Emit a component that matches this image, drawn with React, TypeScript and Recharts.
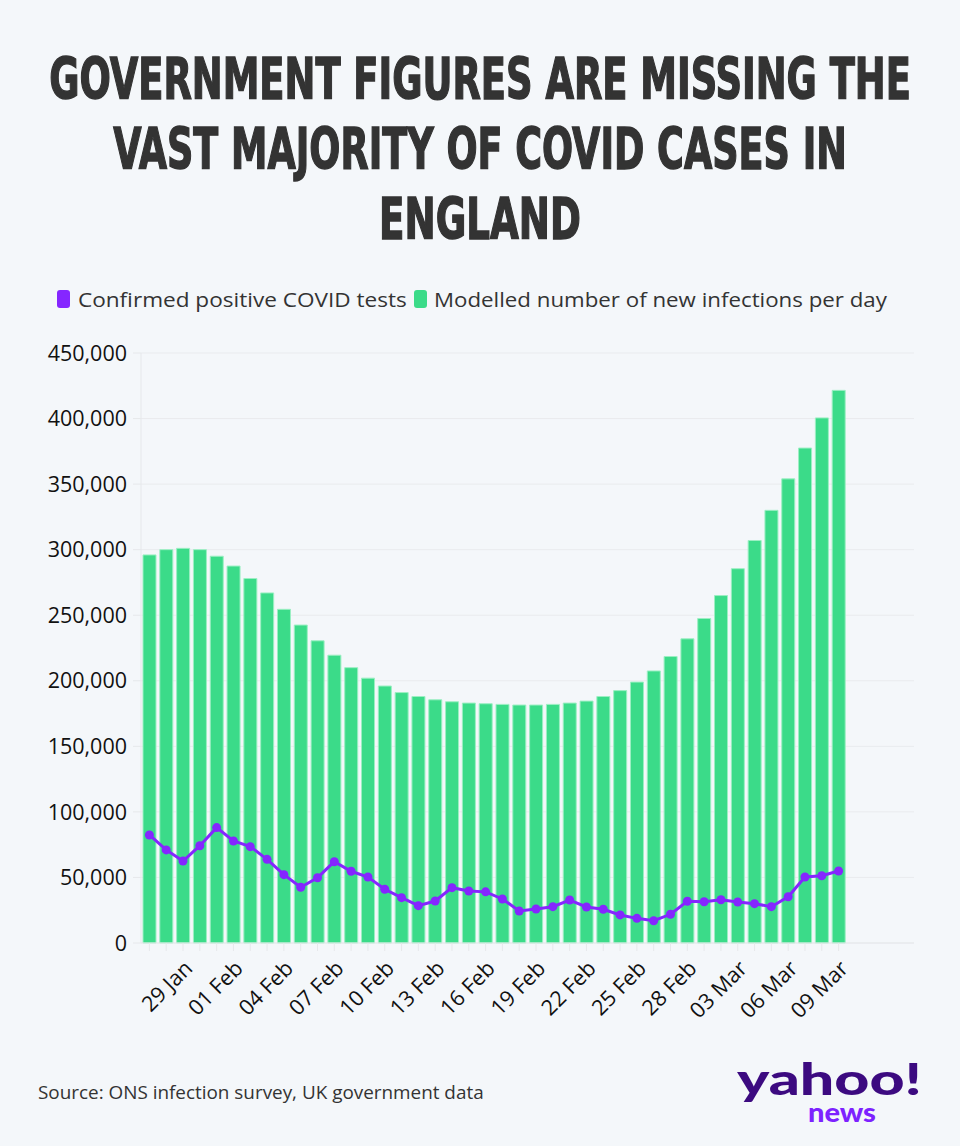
import React, { useLayoutEffect, useRef, useState } from 'react';
import { ComposedChart, Bar, Line, XAxis, YAxis, CartesianGrid } from 'recharts';

// one category per day, 27 Jan to 09 Mar
const dates = [
  '27 Jan', '28 Jan', '29 Jan', '30 Jan', '31 Jan',
  '01 Feb', '02 Feb', '03 Feb', '04 Feb', '05 Feb', '06 Feb', '07 Feb', '08 Feb', '09 Feb', '10 Feb',
  '11 Feb', '12 Feb', '13 Feb', '14 Feb', '15 Feb', '16 Feb', '17 Feb', '18 Feb', '19 Feb', '20 Feb',
  '21 Feb', '22 Feb', '23 Feb', '24 Feb', '25 Feb', '26 Feb', '27 Feb', '28 Feb',
  '01 Mar', '02 Mar', '03 Mar', '04 Mar', '05 Mar', '06 Mar', '07 Mar', '08 Mar', '09 Mar',
];

const modelled = [
  296000, 300000, 301000, 300000, 295000, 287500, 278000, 267000, 254500, 242500,
  230500, 219500, 210000, 202000, 196000, 191000, 188000, 185500, 184000, 183000,
  182500, 182000, 181500, 181500, 182000, 183000, 184500, 188000, 192500, 199000,
  207500, 218500, 232000, 247500, 265000, 285500, 307000, 330000, 354000, 377500,
  400500, 421500,
];

const confirmed = [
  82400, 71000, 62500, 74200, 88000, 77800, 73500, 63800, 52100, 42500,
  49800, 62000, 54700, 50300, 41000, 34600, 28500, 32000, 42200, 39700,
  39000, 33600, 24400, 25900, 27700, 32800, 27500, 25700, 21400, 18800,
  17000, 21900, 31800, 31500, 33000, 31300, 30000, 27700, 35300, 50300,
  51300, 54900,
];

const shownDates = [
  '29 Jan', '01 Feb', '04 Feb', '07 Feb', '10 Feb', '13 Feb', '16 Feb',
  '19 Feb', '22 Feb', '25 Feb', '28 Feb', '03 Mar', '06 Mar', '09 Mar',
];

const yTicks = [0, 50000, 100000, 150000, 200000, 250000, 300000, 350000, 400000, 450000];

const data = dates.map((d, i) => ({ date: d, modelled: modelled[i], confirmed: confirmed[i] }));

const GREEN = '#3bdb89';
const PURPLE = '#8526ff';
const BG = '#f4f7fa';
const FONT = '"Open Sans", "Noto Sans", sans-serif';
const TITLE = '"Liberation Sans Narrow", "DejaVu Sans Condensed", "Roboto Condensed", sans-serif';
const LOGO = '"Lato", "Roboto", sans-serif';

// squeezes/stretches a text horizontally so it covers `width` px
const FitText = ({ x, y, width, children, ...rest }: any) => {
  const ref = useRef<SVGTextElement>(null);
  const [s, setS] = useState(1);
  useLayoutEffect(() => {
    if (ref.current) {
      const w = ref.current.getComputedTextLength();
      if (w > 0) setS(width / w);
    }
  }, [width]);
  return (
    <text ref={ref} x={0} y={0} transform={`translate(${x},${y}) scale(${s},1)`} {...rest}>
      {children}
    </text>
  );
};

const DateTick = (props: any) => {
  const { x, y, payload } = props;
  if (!shownDates.includes(payload.value)) return null;
  return (
    <g transform={`translate(${x},${y})`}>
      <text
        x={0}
        y={0}
        dy="0.71em"
        textAnchor="end"
        transform="rotate(-45)"
        fill="#111"
        fontSize={21.5}
        fontFamily={FONT}
      >
        {payload.value}
      </text>
    </g>
  );
};

export default function App() {
  return (
    <div style={{ position: 'absolute', left: 0, top: 0, width: 960, height: 1146, background: BG, overflow: 'hidden' }}>
      <div style={{ position: 'absolute', left: 0, top: 0 }}>
        <ComposedChart
          width={960}
          height={1146}
          data={data}
          margin={{ top: 353, right: 46, bottom: 123, left: 0 }}
        >
          <CartesianGrid vertical={false} stroke="#e9ebee" />
          <XAxis
            dataKey="date"
            interval={0}
            height={80}
            padding={{ left: 0, right: 67 }}
            tick={<DateTick />}
            tickSize={8}
            tickMargin={8}
            stroke="#e6e8eb"
            tickLine={{ stroke: '#e6e8eb' }}
          />
          <YAxis
            width={141}
            domain={[0, 450000]}
            ticks={yTicks}
            tickSize={8}
            tickMargin={6}
            stroke="#e6e8eb"
            tickLine={{ stroke: '#e6e8eb' }}
            tick={{ fill: '#111', fontSize: 21.5, fontFamily: FONT }}
            tickFormatter={(v: number) => v.toLocaleString('en-GB')}
          />
          <Bar
            dataKey="modelled"
            fill={GREEN}
            stroke="#9cefc3"
            strokeWidth={1}
            barSize={13}
            isAnimationActive={false}
          />
          <Line
            dataKey="confirmed"
            type="linear"
            stroke={PURPLE}
            strokeWidth={3}
            dot={{ r: 4.5, fill: PURPLE, stroke: PURPLE, strokeWidth: 0 }}
            activeDot={false}
            isAnimationActive={false}
          />
        </ComposedChart>
      </div>
      <svg width={960} height={1146} style={{ position: 'absolute', left: 0, top: 0, pointerEvents: 'none' }}>
        <g fill="#333" stroke="#333" strokeWidth={1.4} fontFamily={TITLE} fontWeight={700} fontSize={57} textAnchor="middle">
          <FitText x={480} y={99} width={862}>GOVERNMENT FIGURES ARE MISSING THE</FitText>
          <FitText x={480} y={169} width={734}>VAST MAJORITY OF COVID CASES IN</FitText>
          <FitText x={480} y={239} width={202}>ENGLAND</FitText>
        </g>
        <rect x={57} y={290} width={13} height={18} rx={3} fill={PURPLE} />
        <FitText x={78} y={307} width={329} fontSize={20.5} fontFamily={FONT} fill="#333">Confirmed positive COVID tests</FitText>
        <rect x={414} y={290} width={13} height={18} rx={3} fill={GREEN} />
        <FitText x={434} y={307} width={453} fontSize={20.5} fontFamily={FONT} fill="#333">Modelled number of new infections per day</FitText>
        <FitText x={38} y={1099} width={446} fontSize={18} fontFamily={FONT} fill="#333">Source: ONS infection survey, UK government data</FitText>
        <FitText x={737} y={1095} width={185} fontSize={44} fontWeight={900} fontFamily={LOGO} fill="#3c0a80">yahoo!</FitText>
        <FitText x={808} y={1122} width={68} fontSize={27} fontWeight={900} fontFamily={LOGO} fill="#7d22ff">news</FitText>
      </svg>
    </div>
  );
}
